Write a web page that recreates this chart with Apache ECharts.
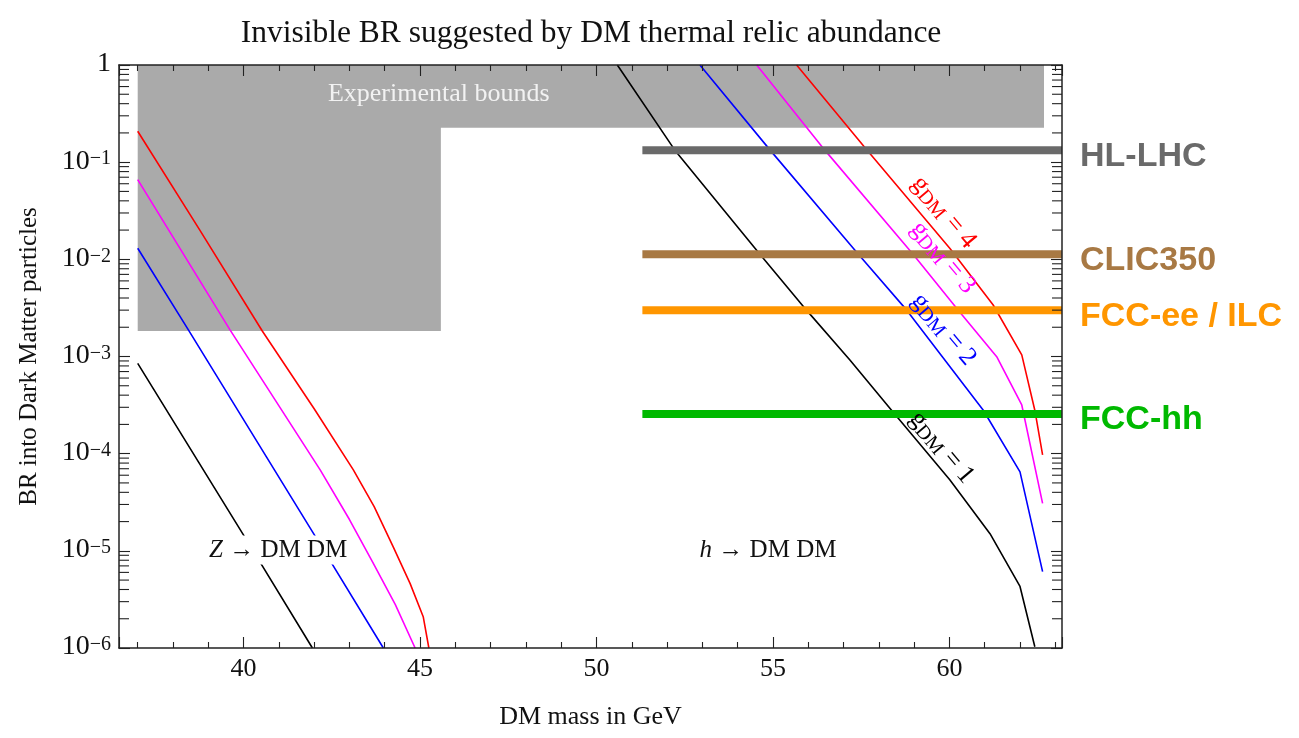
<!DOCTYPE html>
<html>
<head>
<meta charset="utf-8">
<title>Invisible BR</title>
<script src="https://cdn.jsdelivr.net/npm/echarts@6/dist/echarts.min.js"></script>
<style>
html, body { margin: 0; padding: 0; background: #fff; }
#chart { width: 1299px; height: 738px; }
</style>
</head>
<body>
<div id="chart"></div>
<script>
'use strict';

// 坐标范围
var xMin = 36.47, xMax = 63.19;
var yMin = 1e-6, yMax = 1;

// Z -> DM DM 曲线
var zMassG1 = [37.0, 40.0, 41.95];
var zBrG1 = [8.5e-4, 1.45e-5, 1.0e-6];
var zMassG2 = [37.0, 38.44, 41.98, 43.96];
var zBrG2 = [1.3e-2, 1.87e-3, 1.51e-5, 1.0e-6];
var zMassG3 = [37.0, 39.62, 42.17, 43.0, 43.68, 44.3, 44.86];
var zBrG3 = [6.6e-2, 1.87e-3, 6.8e-5, 2.1e-5, 7.4e-6, 2.8e-6, 1.0e-6];
var zMassG4 = [37.0, 38.76, 40.53, 42.0, 43.11, 43.7, 44.24, 44.72, 45.09, 45.25];
var zBrG4 = [0.208, 0.020, 1.83e-3, 2.9e-4, 6.8e-5, 2.85e-5, 1.1e-5, 4.6e-6, 2.1e-6, 1.0e-6];

// h -> DM DM 曲线
var hMassG1 = [50.59, 52.22, 54.63, 55.95, 57.18, 58.36, 60.01, 61.15, 62.0, 62.42];
var hBrG1 = [1.0, 0.133, 1.13e-2, 3.0e-3, 9.2e-4, 2.8e-4, 5.4e-5, 1.5e-5, 4.3e-6, 1.03e-6];
var hMassG2 = [52.93, 54.92, 57.42, 58.79, 60.96, 62.0, 62.64];
var hBrG2 = [1.0, 0.133, 1.13e-2, 3.0e-3, 2.8e-4, 6.5e-5, 6.1e-6];
var hMassG3 = [54.54, 56.47, 58.97, 60.25, 61.34, 62.05, 62.64];
var hBrG3 = [1.0, 0.133, 1.13e-2, 3.0e-3, 9.95e-4, 3.17e-4, 3.08e-5];
var hMassG4 = [55.67, 57.58, 60.01, 61.24, 62.05, 62.42, 62.64];
var hBrG4 = [1.0, 0.145, 1.3e-2, 3.39e-3, 1.04e-3, 2.8e-4, 9.7e-5];

// 实验约束区域 (灰色)
var boundMass = [37.0, 62.68, 62.68, 45.59, 45.59, 37.0];
var boundBr = [1, 1, 0.226, 0.226, 1.83e-3, 1.83e-3];

// 未来对撞机灵敏度
var bandStart = 51.3;
var bandNames = ['HL-LHC', 'CLIC350', 'FCC-ee / ILC', 'FCC-hh'];
var bandBr = [0.133, 0.0113, 3.0e-3, 2.56e-4];
var bandColors = ['#6a6a6a', '#a87944', '#ff9600', '#00b900'];

// 曲线标注
var gLabelMass = [59.82, 59.80, 59.82, 59.76];
var gLabelBr = [0.030, 0.0103, 1.87e-3, 1.14e-4];
var gLabelValue = ['4', '3', '2', '1'];
var gColors = ['#ff0000', '#ff00ff', '#0000ff', '#000000'];

var noteMass = [45.53, 40.98, 54.86];
var noteBr = [0.5, 1.02e-5, 1.02e-5];
var noteText = ['Experimental bounds', '{i|Z} → DM DM', '{i|h} → DM DM'];

// 对数轴次刻度
var minorMantissas = [2, 3, 4, 5, 6, 7, 8, 9];
var decades = [-6, -5, -4, -3, -2, -1];

var serif = '"Liberation Serif", "Times New Roman", serif';
var sans = '"Liberation Sans", Arial, Helvetica, sans-serif';
var frameColor = '#222';

function pairs(xs, ys) {
    return xs.map(function (x, i) { return [x, ys[i]]; });
}

var minorTicks = [];
decades.forEach(function (d) {
    minorMantissas.forEach(function (m) {
        minorTicks.push([xMin, m * Math.pow(10, d)]);
    });
});

function curve(name, xs, ys, color) {
    return {
        name: name,
        type: 'line',
        data: pairs(xs, ys),
        showSymbol: false,
        symbol: 'none',
        silent: true,
        z: 3,
        lineStyle: { color: color, width: 1.6 },
        itemStyle: { color: color }
    };
}

var series = [];

// 灰色区域
series.push({
    type: 'custom',
    silent: true,
    z: 1,
    data: [[boundMass[0], boundBr[0]]],
    renderItem: function (params, api) {
        var pts = boundMass.map(function (m, i) { return api.coord([m, boundBr[i]]); });
        return { type: 'polygon', shape: { points: pts }, style: { fill: '#aaaaaa' } };
    }
});

series.push(curve('zg1', zMassG1, zBrG1, gColors[3]));
series.push(curve('zg2', zMassG2, zBrG2, gColors[2]));
series.push(curve('zg3', zMassG3, zBrG3, gColors[1]));
series.push(curve('zg4', zMassG4, zBrG4, gColors[0]));
series.push(curve('hg1', hMassG1, hBrG1, gColors[3]));
series.push(curve('hg2', hMassG2, hBrG2, gColors[2]));
series.push(curve('hg3', hMassG3, hBrG3, gColors[1]));
series.push(curve('hg4', hMassG4, hBrG4, gColors[0]));

// 灵敏度横条
bandNames.forEach(function (name, i) {
    series.push({
        name: name,
        type: 'line',
        data: [[bandStart, bandBr[i]], [xMax, bandBr[i]]],
        showSymbol: false,
        symbol: 'none',
        silent: true,
        z: 4,
        lineStyle: { color: bandColors[i], width: 8, cap: 'butt' },
        endLabel: {
            show: true,
            formatter: name,
            color: bandColors[i],
            fontFamily: sans,
            fontWeight: 'bold',
            fontSize: 34,
            distance: 18,
            offset: [0, 6]
        }
    });
});

// g_DM 标注
series.push({
    type: 'custom',
    silent: true,
    z: 5,
    data: pairs(gLabelMass, gLabelBr),
    renderItem: function (params, api) {
        var i = params.dataIndex;
        var p = api.coord([gLabelMass[i], gLabelBr[i]]);
        return {
            type: 'text',
            x: p[0], y: p[1],
            rotation: -50 * Math.PI / 180,
            style: {
                text: '{g|g}{s|DM}{g| = ' + gLabelValue[i] + '}',
                align: 'center',
                verticalAlign: 'middle',
                fill: gColors[i],
                rich: {
                    g: { fontFamily: serif, fontSize: 26, lineHeight: 28, verticalAlign: 'top', fill: gColors[i] },
                    s: { fontFamily: serif, fontSize: 20, lineHeight: 14, verticalAlign: 'bottom', fill: gColors[i] }
                }
            }
        };
    }
});

// 文本标注
series.push({
    type: 'custom',
    silent: true,
    z: 5,
    data: pairs(noteMass, noteBr),
    renderItem: function (params, api) {
        var i = params.dataIndex;
        var p = api.coord([noteMass[i], noteBr[i]]);
        var first = i === 0;
        return {
            type: 'text',
            x: p[0], y: p[1],
            style: {
                text: noteText[i],
                align: 'center',
                verticalAlign: 'middle',
                fill: first ? '#f2f2f2' : '#111',
                font: (first ? '26px ' : '25px ') + serif,
                backgroundColor: first ? null : '#fff',
                padding: [2, 4],
                rich: {
                    i: { fontFamily: serif, fontSize: 25, fontStyle: 'italic', fill: '#111' }
                }
            }
        };
    }
});

// y 轴次刻度 (左右两侧)
series.push({
    type: 'custom',
    silent: true,
    z: 6,
    data: minorTicks,
    renderItem: function (params, api) {
        var v = minorTicks[params.dataIndex][1];
        var l = api.coord([xMin, v]);
        var r = api.coord([xMax, v]);
        var st = { stroke: frameColor, lineWidth: 1.1 };
        return {
            type: 'group',
            children: [
                { type: 'line', shape: { x1: l[0], y1: l[1], x2: l[0] + 10, y2: l[1] }, style: st },
                { type: 'line', shape: { x1: r[0], y1: r[1], x2: r[0] - 10, y2: r[1] }, style: st }
            ]
        };
    }
});

var xAxisBase = {
    type: 'value',
    min: xMin,
    max: xMax,
    splitNumber: 5,
    z: 10,
    axisLine: { show: true, onZero: false, lineStyle: { color: frameColor, width: 1.5 } },
    axisTick: { show: true, inside: true, length: 11, lineStyle: { color: frameColor, width: 1.1 } },
    minorTick: { show: true, splitNumber: 5, length: 6, lineStyle: { color: frameColor, width: 1.1 } },
    splitLine: { show: false }
};

var yAxisBase = {
    type: 'log',
    logBase: 10,
    min: yMin,
    max: yMax,
    interval: 1,
    z: 10,
    axisLine: { show: true, onZero: false, lineStyle: { color: frameColor, width: 1.5 } },
    axisTick: { show: true, inside: true, length: 11, lineStyle: { color: frameColor, width: 1.1 } },
    splitLine: { show: false }
};

var option = {
    animation: false,
    backgroundColor: '#fff',
    title: {
        text: 'Invisible BR suggested by DM thermal relic abundance',
        left: 586,
        textAlign: 'center',
        top: 13,
        textStyle: { fontFamily: serif, fontSize: 31.5, fontWeight: 'normal', color: '#111' }
    },
    grid: { left: 119, right: 237, top: 65, bottom: 90, containLabel: false },
    xAxis: [
        Object.assign({}, xAxisBase, {
            position: 'bottom',
            name: 'DM mass in GeV',
            nameLocation: 'middle',
            nameGap: 56,
            nameTextStyle: { fontFamily: serif, fontSize: 26, color: '#111' },
            axisLabel: {
                margin: 8,
                fontFamily: serif,
                fontSize: 26,
                color: '#111',
                formatter: function (v) { return Math.abs(v % 5) < 1e-9 ? String(v) : ''; }
            }
        }),
        Object.assign({}, xAxisBase, {
            position: 'top',
            axisLabel: { show: false }
        })
    ],
    yAxis: [
        Object.assign({}, yAxisBase, {
            position: 'left',
            name: 'BR into Dark Matter particles',
            nameLocation: 'middle',
            nameRotate: 90,
            nameGap: 77,
            nameTextStyle: { fontFamily: serif, fontSize: 25, color: '#111' },
            axisLabel: {
                margin: 8,
                color: '#111',
                formatter: function (v) {
                    var e = Math.round(Math.log10(v));
                    if (e === 0) return '{b|1}';
                    return '{b|10}{s|−' + (-e) + '}';
                },
                rich: {
                    b: { fontFamily: serif, fontSize: 28, lineHeight: 26, verticalAlign: 'bottom', color: '#111' },
                    s: { fontFamily: serif, fontSize: 20, lineHeight: 15, verticalAlign: 'top', padding: [0, 0, 17, 0], color: '#111' }
                }
            }
        }),
        Object.assign({}, yAxisBase, {
            position: 'right',
            axisLabel: { show: false }
        })
    ],
    series: series
};

var chart = echarts.init(document.getElementById('chart'));
chart.setOption(option);
</script>
</body>
</html>
